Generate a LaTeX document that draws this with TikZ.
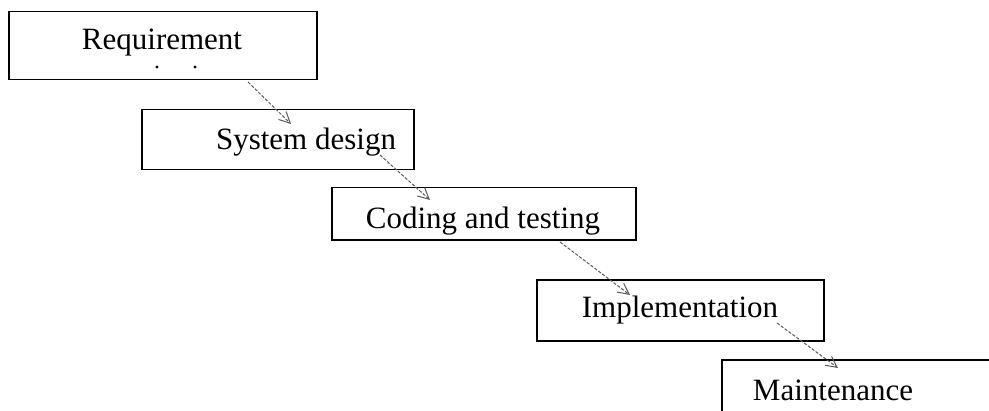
\documentclass[tikz,border=0pt]{standalone}
\usepackage{fontspec}
\setmainfont{Liberation Serif}
\usetikzlibrary{arrows.meta,calc}
\begin{document}
\begin{tikzpicture}[x=0.5pt,y=-0.5pt,
  stage/.style={draw=black,line width=0.75pt,rectangle,inner sep=0pt,anchor=north west},
  caption/.style={font=\fontsize{15.5}{18}\selectfont,inner sep=0pt},
  flow/.style={draw=black!65,line width=0.5pt,dash pattern=on 1.6pt off 0.8pt,
    -{Straight Barb[length=5.5pt,width=5.5pt]}}]
\useasboundingbox (0,0) rectangle (989,411);
\clip (0,0) rectangle (989,411);
% stage boxes
\node[stage,minimum width=154pt,minimum height=34pt] (req) at (8,11) {};
\node[stage,minimum width=136pt,minimum height=30pt] (sys) at (141,109) {};
\node[stage,minimum width=152pt,minimum height=26pt] (cod) at (331,187) {};
\node[stage,minimum width=143.5pt,minimum height=30.5pt] (imp) at (536,279) {};
\node[stage,minimum width=150pt,minimum height=40pt] (mai) at (721,359) {};
% stage names
\node[caption] (reqt) at (162,43) {Requirement};
\fill (157,67) circle (0.8pt) coordinate (dotA);
\fill (195,67) circle (0.8pt) coordinate (dotB);
\node[caption] (syst) at (306,142) {System design};
\node[caption] (codt) at (483,221) {Coding and testing};
\node[caption] (impt) at (680,310) {Implementation};
\node[caption] (mait) at (833,390) {Maintenance};
% connector ends
\coordinate (r1) at (248,82);  \coordinate (s1) at (291,124);
\coordinate (r2) at (380,155); \coordinate (s2) at (430,200);
\coordinate (r3) at (560,242); \coordinate (s3) at (630,295);
\coordinate (r4) at (777,323); \coordinate (s4) at (838,368);
\draw[flow] (r1) -- (s1);
\draw[flow] (r2) -- (s2);
\draw[flow] (r3) -- (s3);
\draw[flow] (r4) -- (s4);
\end{tikzpicture}
\end{document}
